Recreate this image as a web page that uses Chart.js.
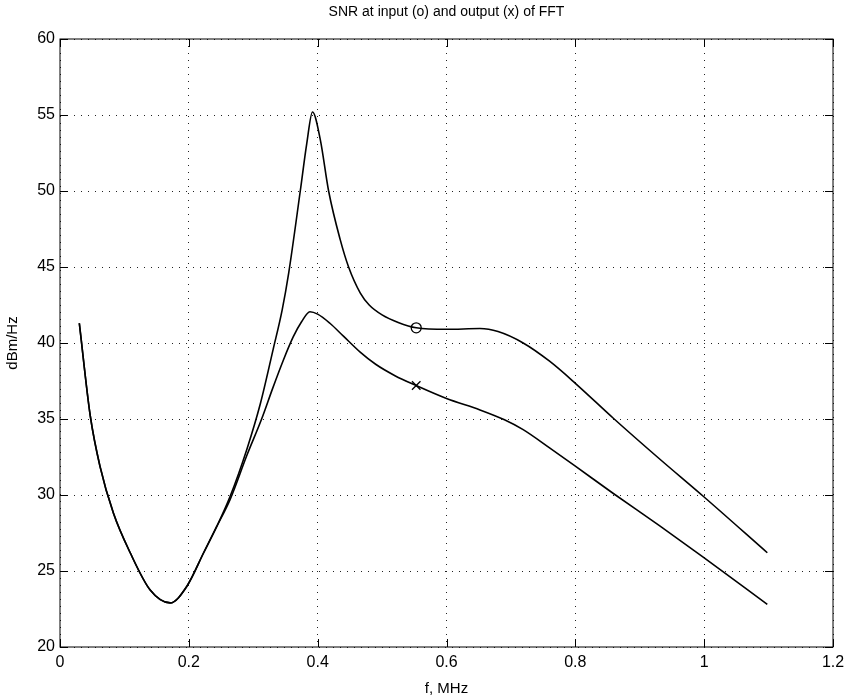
<!DOCTYPE html>
<html lang="en">
<head>
    <meta charset="UTF-8">
    <title>SNR at input (o) and output (x) of FFT</title>
    <script src="https://cdn.jsdelivr.net/npm/chart.js"></script>
    <style>
        body { margin: 0; background: #fff; }
        #wrap { width: 851px; height: 700px; }
    </style>
</head>
<body>
    <div id="wrap"><canvas id="snrChart" width="851" height="700"></canvas></div>
    <script>
        // frequency (MHz) and SNR (dBm/Hz)
        const inputFreq = [0.03, 0.047, 0.062, 0.083, 0.109, 0.14, 0.171, 0.197, 0.223, 0.243, 0.264, 0.29, 0.311, 0.331, 0.345, 0.355, 0.373, 0.383, 0.392, 0.404, 0.417, 0.435, 0.448, 0.466, 0.48, 0.50, 0.525, 0.553, 0.60, 0.652, 0.68, 0.719, 0.76, 0.80, 0.859, 0.93, 0.999, 1.098];
        const inputSnr  = [41.3, 35.2, 31.9, 28.8, 26.2, 23.75, 22.9, 24.0, 26.2, 27.9, 29.9, 33.0, 36.0, 39.6, 42.2, 44.6, 50.0, 53.1, 55.2, 53.4, 50.0, 46.8, 45.0, 43.3, 42.5, 41.85, 41.35, 41.0, 40.9, 40.95, 40.75, 40.0, 38.8, 37.35, 35.05, 32.4, 29.9, 26.2];

        const outputFreq = [0.03, 0.047, 0.062, 0.083, 0.109, 0.14, 0.171, 0.197, 0.223, 0.243, 0.264, 0.29, 0.313, 0.33, 0.347, 0.362, 0.375, 0.388, 0.40, 0.419, 0.44, 0.466, 0.49, 0.52, 0.553, 0.60, 0.652, 0.69, 0.719, 0.76, 0.80, 0.859, 0.93, 0.999, 1.098];
        const outputSnr  = [41.3, 35.2, 31.9, 28.8, 26.2, 23.75, 22.9, 24.0, 26.2, 27.9, 29.7, 32.6, 35.0, 37.0, 38.9, 40.4, 41.4, 42.06, 41.9, 41.3, 40.45, 39.4, 38.6, 37.85, 37.2, 36.35, 35.6, 34.95, 34.3, 33.1, 31.9, 30.1, 28.0, 25.9, 22.8];

        // marker points
        const markFreq = 0.553;
        const inputMark = 41.0;
        const outputMark = 37.2;

        const xTicks = [0, 0.2, 0.4, 0.6, 0.8, 1, 1.2];
        const yTicks = [20, 25, 30, 35, 40, 45, 50, 55, 60];

        function toPoints(xs, ys) {
            return xs.map((x, i) => ({ x: x, y: ys[i] }));
        }

        // box round the plot with inward tick marks
        const frameTicks = {
            id: 'frameTicks',
            afterDraw(chart) {
                const ctx = chart.ctx;
                const a = chart.chartArea;
                const xs = chart.scales.x, ys = chart.scales.y;
                const len = 8;
                ctx.save();
                ctx.strokeStyle = '#000';
                ctx.lineWidth = 1;
                ctx.strokeRect(a.left, a.top, a.right - a.left, a.bottom - a.top);
                ctx.beginPath();
                xTicks.forEach(v => {
                    const px = Math.round(xs.getPixelForValue(v)) + 0.5;
                    ctx.moveTo(px, a.bottom); ctx.lineTo(px, a.bottom - len);
                    ctx.moveTo(px, a.top); ctx.lineTo(px, a.top + len);
                });
                yTicks.forEach(v => {
                    const py = Math.round(ys.getPixelForValue(v)) + 0.5;
                    ctx.moveTo(a.left, py); ctx.lineTo(a.left + len, py);
                    ctx.moveTo(a.right, py); ctx.lineTo(a.right - len, py);
                });
                ctx.stroke();
                ctx.restore();
            }
        };

        const font = 'Liberation Sans, Arial, Helvetica, sans-serif';

        new Chart(document.getElementById('snrChart').getContext('2d'), {
            type: 'scatter',
            data: {
                datasets: [
                    {
                        label: 'input',
                        data: toPoints(inputFreq, inputSnr),
                        showLine: true,
                        borderColor: '#000',
                        borderWidth: 1.6,
                        pointRadius: 0,
                        cubicInterpolationMode: 'monotone'
                    },
                    {
                        label: 'output',
                        data: toPoints(outputFreq, outputSnr),
                        showLine: true,
                        borderColor: '#000',
                        borderWidth: 1.6,
                        pointRadius: 0,
                        cubicInterpolationMode: 'monotone'
                    },
                    {
                        label: 'o',
                        data: [{ x: markFreq, y: inputMark }],
                        pointStyle: 'circle',
                        pointRadius: 5,
                        borderColor: '#000',
                        borderWidth: 1.3,
                        backgroundColor: 'rgba(0,0,0,0)'
                    },
                    {
                        label: 'x',
                        data: [{ x: markFreq, y: outputMark }],
                        pointStyle: 'crossRot',
                        pointRadius: 6,
                        borderColor: '#000',
                        borderWidth: 1.3
                    }
                ]
            },
            options: {
                responsive: false,
                animation: false,
                layout: { padding: { left: 0, right: 18, top: 0, bottom: 0 } },
                plugins: {
                    legend: { display: false },
                    tooltip: { enabled: false }
                },
                scales: {
                    // top axis only carries the title, so it is centred over the plot
                    xTop: {
                        type: 'linear',
                        position: 'top',
                        min: 0,
                        max: 1.2,
                        afterFit: s => { s.height = 39; },
                        ticks: { display: false },
                        grid: { display: false },
                        border: { display: false },
                        title: {
                            display: true,
                            text: 'SNR at input (o) and output (x) of FFT',
                            color: '#000',
                            font: { family: font, size: 14, lineHeight: 1.2 },
                            padding: { top: 4, bottom: 0 }
                        }
                    },
                    x: {
                        type: 'linear',
                        min: 0,
                        max: 1.2,
                        afterBuildTicks: s => { s.ticks = xTicks.map(v => ({ value: v })); },
                        afterFit: s => { s.height = 53; },
                        ticks: {
                            color: '#000',
                            padding: 6,
                            maxRotation: 0,
                            font: { family: font, size: 16 },
                            callback: v => String(v)
                        },
                        grid: {
                            color: '#222',
                            lineWidth: 1,
                            drawTicks: false
                        },
                        border: { display: false, dash: [1, 6] },
                        title: {
                            display: true,
                            text: 'f, MHz',
                            color: '#000',
                            font: { family: font, size: 15 },
                            padding: { top: 0, bottom: 2 }
                        }
                    },
                    y: {
                        min: 20,
                        max: 60,
                        afterBuildTicks: s => { s.ticks = yTicks.map(v => ({ value: v })); },
                        afterFit: s => { s.width = 60; },
                        ticks: {
                            color: '#000',
                            padding: 5,
                            font: { family: font, size: 16 }
                        },
                        grid: {
                            color: '#222',
                            lineWidth: 1,
                            drawTicks: false
                        },
                        border: { display: false, dash: [1, 6] },
                        title: {
                            display: true,
                            text: 'dBm/Hz',
                            color: '#000',
                            font: { family: font, size: 15 },
                            padding: { top: 4, bottom: 0 }
                        }
                    }
                }
            },
            plugins: [frameTicks]
        });
    </script>
</body>
</html>
